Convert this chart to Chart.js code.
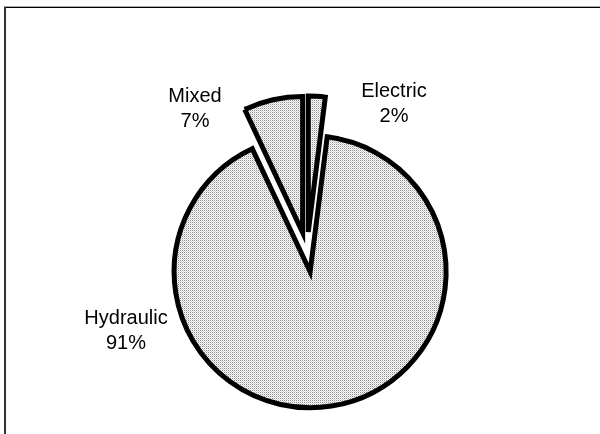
<!DOCTYPE html>
<html>
<head>
<meta charset="utf-8">
<script src="https://cdn.jsdelivr.net/npm/chart.js@4"></script>
<style>
  html, body { margin: 0; padding: 0; background: #fff; }
  #wrap { position: relative; width: 600px; height: 434px; }
  canvas { display: block; }
</style>
</head>
<body>
<div id="wrap"><canvas id="c" width="600" height="434"></canvas></div>
<script>
// Drive type shares (percent)
const categories = ['Electric', 'Hydraulic', 'Mixed'];
const shares = [2, 91, 7];
const shareLabels = ['2%', '91%', '7%'];

// Every wedge is pulled out from the centre by the same distance (px)
const explodeDistance = 20;

// Label anchors: centre x and first-line baseline
const labelAnchors = [
  { x: 394, y: 97 },
  { x: 126, y: 324 },
  { x: 195, y: 102 }
];

// Fine dotted grey fill
function dotPattern() {
  const p = document.createElement('canvas');
  p.width = 2; p.height = 2;
  const g = p.getContext('2d');
  g.fillStyle = '#ffffff'; g.fillRect(0, 0, 2, 2);
  g.fillStyle = '#8c8c8c'; g.fillRect(0, 0, 1, 1);
  g.fillStyle = '#d2d2d2'; g.fillRect(1, 1, 1, 1);
  return g.createPattern(p, 'repeat');
}

// Move each arc's centre out along its own mid-angle, keeping radius and sweep intact
const explodePlugin = {
  id: 'explode',
  afterDatasetsUpdate(chart) {
    chart.getDatasetMeta(0).data.forEach(arc => {
      const mid = (arc.startAngle + arc.endAngle) / 2;
      arc.x += Math.cos(mid) * explodeDistance;
      arc.y += Math.sin(mid) * explodeDistance;
    });
  }
};

const framePlugin = {
  id: 'frame',
  beforeDraw(chart) {
    const ctx = chart.ctx;
    ctx.save();
    ctx.fillStyle = '#ffffff';
    ctx.fillRect(0, 0, chart.width, chart.height);
    ctx.fillStyle = '#a8a8a8';
    ctx.fillRect(4, 6, chart.width - 4, 1);
    ctx.fillStyle = '#000000';
    ctx.fillRect(4, 7, chart.width - 4, 1);
    ctx.fillStyle = '#333333';
    ctx.fillRect(4, 7, 2, chart.height - 7);
    ctx.restore();
  }
};

const labelPlugin = {
  id: 'sliceLabels',
  afterDraw(chart) {
    const ctx = chart.ctx;
    ctx.save();
    ctx.font = '20px "Liberation Sans", Arial, sans-serif';
    ctx.fillStyle = '#000000';
    ctx.textAlign = 'center';
    ctx.textBaseline = 'alphabetic';
    categories.forEach((name, i) => {
      const a = labelAnchors[i];
      ctx.fillText(name, a.x, a.y);
      ctx.fillText(shareLabels[i], a.x, a.y + 25);
    });
    ctx.restore();
  }
};

new Chart(document.getElementById('c'), {
  type: 'pie',
  data: {
    labels: categories,
    datasets: [{
      data: shares,
      backgroundColor: dotPattern(),
      borderColor: '#000000',
      borderWidth: 5,
      borderJoinStyle: 'miter',
      offset: 0,
      hoverOffset: 0
    }]
  },
  options: {
    responsive: false,
    animation: false,
    events: [],
    radius: 136,
    rotation: 0,
    layout: { padding: { left: 14, right: 0, top: 70, bottom: 0 } },
    plugins: {
      legend: { display: false },
      tooltip: { enabled: false }
    }
  },
  plugins: [explodePlugin, framePlugin, labelPlugin]
});
</script>
</body>
</html>
